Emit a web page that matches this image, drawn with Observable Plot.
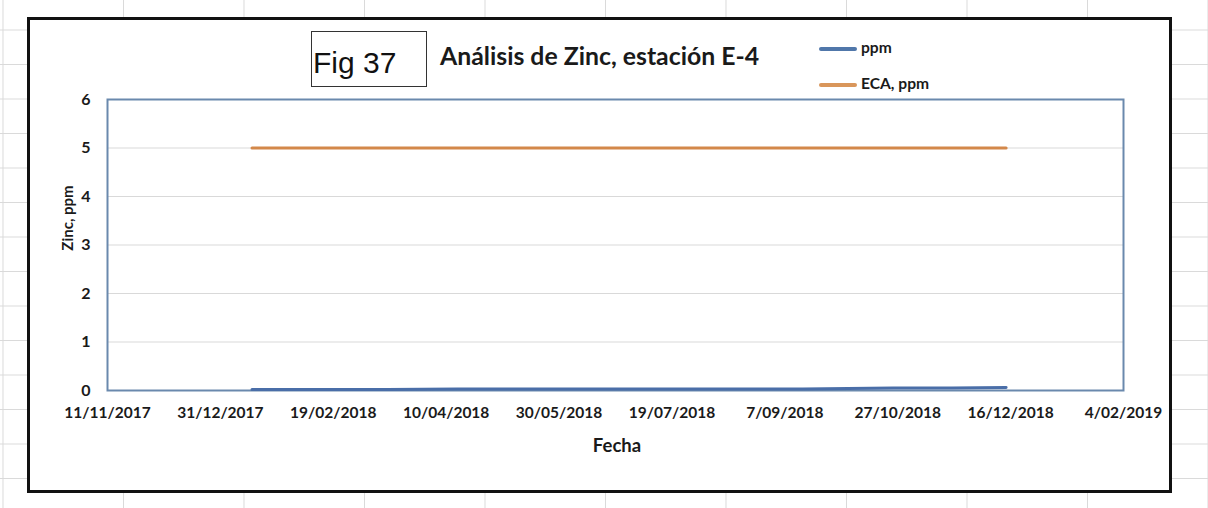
<!DOCTYPE html>
<html>
<head>
<meta charset="utf-8">
<script src="https://cdn.jsdelivr.net/npm/d3@7"></script>
<script src="https://cdn.jsdelivr.net/npm/@observablehq/plot@0.6"></script>
<style>
  body { margin: 0; background: #fff; }
  #page {
    position: relative; width: 1208px; height: 508px; overflow: hidden;
    background-color: #fff;
    background-image:
      linear-gradient(to right, #dadada 1px, transparent 1px),
      linear-gradient(to bottom, #dadada 1px, transparent 1px);
    background-size: 120.5px 34.5px, 120.5px 34.5px;
    background-position: 123px 64px, 123px 64px;
    font-family: Lato, "Open Sans", sans-serif;
  }
  #box {
    position: absolute; left: 27px; top: 17px; width: 1139px; height: 470px;
    border: 3px solid #111; background: #fff;
  }
  #chart { position: absolute; left: 0; top: 0; }
  #figbox {
    position: absolute; left: 311px; top: 31px; width: 114px; height: 54px;
    border: 1px solid #333; background: #fff;
    font-family: "Liberation Sans", Arial, sans-serif; font-size: 30px; color: #111;
  }
  #figbox span { position: absolute; left: 1px; top: 16px; line-height: 1; }
  #title {
    position: absolute; left: 440px; top: 44px; font-weight: bold; font-size: 24.8px;
    color: #1a1a1a; white-space: nowrap; line-height: 1;
  }
  .leg { position: absolute; left: 819px; line-height: 20px; font-weight: bold; font-size: 15.6px; color: #1a1a1a; white-space: nowrap; }
  .leg i { display: inline-block; width: 38px; height: 4px; border-radius: 2px; vertical-align: middle; margin-right: 4px; }
  #ylabel {
    position: absolute; left: 67px; top: 218px; transform: translate(-50%, -50%) rotate(-90deg);
    font-weight: bold; font-size: 15px; color: #1a1a1a; white-space: nowrap; line-height: 1;
  }
  #xlabel {
    position: absolute; left: 617px; top: 445px; transform: translate(-50%, -50%);
    font-weight: bold; font-size: 18.5px; color: #1a1a1a; white-space: nowrap; line-height: 1;
  }
</style>
</head>
<body>
<div id="page">
  <div id="box"></div>
  <div id="chart"></div>
  <div id="figbox"><span>Fig 37</span></div>
  <div id="title">Análisis de Zinc, estación E-4</div>
  <div class="leg" style="top:37px"><i style="background:#5077aa"></i>ppm</div>
  <div class="leg" style="top:73px"><i style="background:#d9965b"></i>ECA, ppm</div>
  <div id="ylabel">Zinc, ppm</div>
  <div id="xlabel">Fecha</div>
</div>
<script>
// Sampling dates (approx. monthly, 2018)
const sampleDates = [
  "2018-01-14", "2018-02-14", "2018-03-15", "2018-04-15", "2018-05-15", "2018-06-15",
  "2018-07-15", "2018-08-15", "2018-09-15", "2018-10-25", "2018-11-20", "2018-12-14"
];
// Zinc concentration, ppm
const ppmValues = [0.02, 0.02, 0.02, 0.03, 0.03, 0.03, 0.03, 0.03, 0.03, 0.05, 0.05, 0.06];
// ECA standard, ppm
const ecaValues = [5, 5, 5, 5, 5, 5, 5, 5, 5, 5, 5, 5];
// Axis ticks
const xTickDates = [
  "2017-11-11", "2017-12-31", "2018-02-19", "2018-04-10", "2018-05-30",
  "2018-07-19", "2018-09-07", "2018-10-27", "2018-12-16", "2019-02-04"
];
const yTicks = [0, 1, 2, 3, 4, 5, 6];
const seriesNames = ["ppm", "ECA, ppm"];
const seriesColors = ["#4a6ea8", "#d3884a"];

const rows = [];
sampleDates.forEach((d, i) => {
  rows.push({date: new Date(d), value: ppmValues[i], series: seriesNames[0]});
  rows.push({date: new Date(d), value: ecaValues[i], series: seriesNames[1]});
});
const ticks = xTickDates.map(d => new Date(d));
const fmt = d => `${d.getUTCDate()}/${String(d.getUTCMonth() + 1).padStart(2, "0")}/${d.getUTCFullYear()}`;

const chart = Plot.plot({
  width: 1208,
  height: 508,
  marginLeft: 107,
  marginRight: 85,
  marginTop: 99,
  marginBottom: 118,
  style: {background: "transparent", fontFamily: "Lato, sans-serif", fontSize: "16px", color: "#1a1a1a", overflow: "visible"},
  x: {type: "utc", domain: [ticks[0], ticks[ticks.length - 1]]},
  y: {domain: [0, 6]},
  color: {domain: seriesNames, range: seriesColors},
  marks: [
    Plot.gridY(yTicks.slice(1, -1), {stroke: "#d9d9d9", strokeOpacity: 1, strokeWidth: 1}),
    Plot.frame({stroke: "#6a89ad", strokeWidth: 2}),
    Plot.line(rows, {x: "date", y: "value", z: "series", stroke: "series", strokeWidth: 3}),
    Plot.axisY({ticks: yTicks, tickFormat: d => String(d), tickSize: 0, tickPadding: 17, label: null, fontWeight: "bold", fontSize: 16}),
    Plot.axisX({ticks, tickFormat: fmt, tickSize: 0, tickPadding: 16, fontWeight: "bold", fontSize: 15.5, label: null})
  ]
});
document.getElementById("chart").appendChild(chart);
</script>
</body>
</html>
